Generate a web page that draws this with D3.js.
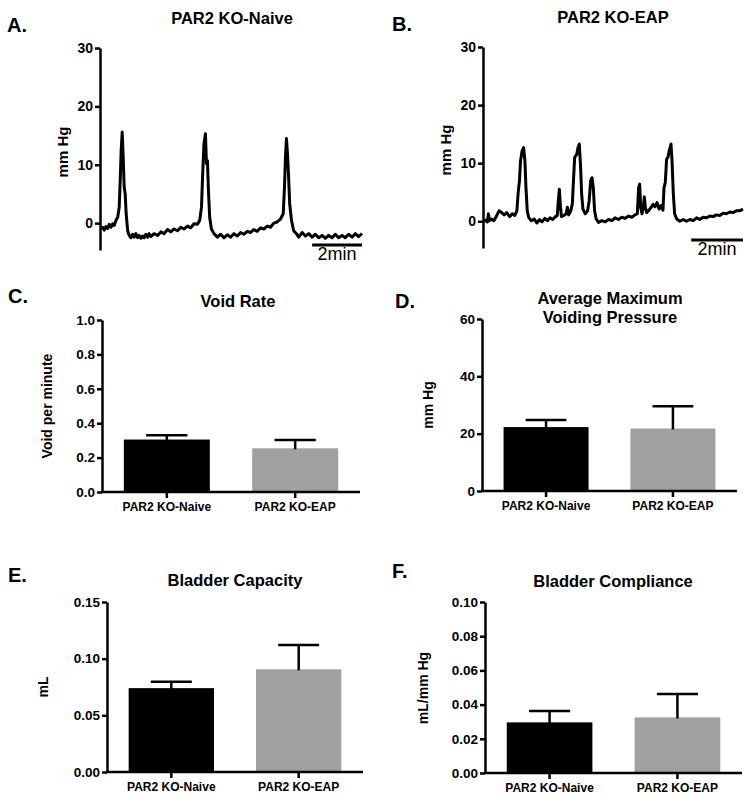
<!DOCTYPE html>
<html>
<head>
<meta charset="utf-8">
<script src="https://cdn.jsdelivr.net/npm/d3@7"></script>
<style>
html,body{margin:0;padding:0;background:#fff;}
svg{display:block;}
text{font-family:"Liberation Sans",Arial,Helvetica,sans-serif;}
</style>
</head>
<body>
<svg id="chart" width="751" height="800"></svg>
<script>
// ---------- DATA ----------
// Trace A: PAR2 KO-Naive (time in minutes, pressure in mm Hg)
const traceATime = [0,0.07,0.13,0.2,0.27,0.33,0.4,0.47,0.53,0.6,0.67,0.73,0.77,0.81,0.85,0.89,0.93,0.97,1.01,1.07,1.13,1.2,1.27,1.33,1.4,1.47,1.53,1.6,1.67,1.73,1.8,1.87,1.93,2.0,2.13,2.27,2.4,2.53,2.67,2.8,2.93,3.07,3.2,3.33,3.47,3.6,3.73,3.87,3.96,4.03,4.08,4.13,4.19,4.23,4.27,4.31,4.36,4.43,4.53,4.67,4.8,4.93,5.07,5.2,5.33,5.47,5.6,5.73,5.87,6.0,6.13,6.27,6.4,6.53,6.67,6.8,6.93,7.07,7.2,7.31,7.36,7.4,7.44,7.48,7.52,7.57,7.64,7.73,7.84,7.93,8.07,8.2,8.33,8.47,8.6,8.73,8.87,9.0,9.13,9.27,9.4,9.53,9.67,9.8,9.93,10.07,10.2,10.33,10.47];
const traceAValue = [-1.0,-0.7,-1.2,-0.6,-0.9,-0.2,-0.7,-0.1,-0.4,0.5,1.0,2.7,7.3,12.5,15.6,11.3,6.2,5.0,1.6,-1.3,-2.1,-2.5,-1.9,-2.4,-1.8,-2.5,-2.1,-2.6,-2.2,-2.5,-1.9,-2.4,-1.8,-2.3,-1.8,-2.1,-1.5,-1.8,-1.1,-1.5,-1.0,-1.3,-0.7,-1.0,-0.5,-0.8,-0.1,-0.2,0.5,2.7,8.5,13.6,15.3,10.2,10.7,5.6,1.0,-1.0,-1.8,-2.4,-1.9,-2.5,-2.0,-2.4,-1.8,-2.2,-1.6,-1.9,-1.4,-1.6,-1.1,-1.4,-0.8,-1.0,-0.5,-0.7,0.0,0.2,0.7,1.6,6.2,11.3,14.5,11.9,8.5,3.3,0.5,-1.3,-1.8,-2.4,-1.6,-2.2,-1.8,-2.4,-1.9,-2.5,-2.1,-2.6,-2.1,-2.5,-1.9,-2.5,-2.1,-2.5,-1.9,-2.4,-1.8,-2.3,-1.8];

// Trace B: PAR2 KO-EAP
const traceBTime = [0,0.06,0.13,0.17,0.21,0.29,0.38,0.47,0.58,0.68,0.78,0.88,0.99,1.09,1.19,1.27,1.32,1.37,1.41,1.47,1.53,1.58,1.62,1.67,1.73,1.83,1.94,2.04,2.14,2.24,2.35,2.45,2.55,2.65,2.76,2.83,2.87,2.91,2.95,2.99,3.08,3.17,3.22,3.27,3.35,3.41,3.46,3.5,3.58,3.63,3.68,3.73,3.77,3.82,3.91,4.0,4.06,4.12,4.17,4.22,4.27,4.33,4.42,4.55,4.68,4.81,4.94,5.06,5.19,5.32,5.45,5.58,5.71,5.83,5.92,5.97,6.01,6.05,6.1,6.15,6.19,6.23,6.28,6.37,6.45,6.53,6.6,6.68,6.76,6.83,6.91,6.95,7.0,7.05,7.1,7.15,7.22,7.26,7.31,7.36,7.44,7.56,7.69,7.82,7.95,8.08,8.21,8.33,8.46,8.59,8.72,8.85,8.97,9.1,9.23,9.36,9.49,9.62,9.74,9.87,10.0];
const traceBValue = [0,0.2,-0.1,1.3,0.1,0.4,0.1,0.8,1.8,1.5,1.1,1.5,0.8,1.3,1.0,1.8,5.0,7.0,10.4,12.1,12.7,10.4,5.8,1.8,0.6,0.1,0.4,-0.3,0.3,-0.1,0.5,0.1,0.6,0.3,0.8,1.0,3.5,5.5,2.7,0.8,1.0,1.3,2.4,1.1,1.8,3.0,7.5,11.0,11.5,12.7,13.3,9.3,4.7,2.1,1.3,1.8,3.5,7.0,7.5,5.8,1.8,0.4,-0.2,0.1,-0.1,0.3,0.1,0.6,0.3,0.7,0.5,0.9,0.7,1.1,1.3,5.8,6.4,2.4,1.3,2.4,4.2,2.4,1.5,1.9,2.4,2.9,2.5,3.2,2.1,2.7,1.9,5.8,6.7,10.7,11.0,12.1,13.3,10.4,4.7,1.3,0.4,0.0,0.3,0.0,0.3,0.1,0.6,0.3,0.7,0.6,0.9,0.8,1.1,1.0,1.4,1.3,1.6,1.5,1.8,1.8,2.1];

const traceTicks = [0, 10, 20, 30];

// Bar panels
const groups = ["PAR2 KO-Naive", "PAR2 KO-EAP"];
const voidRateMean = [0.305, 0.254];
const voidRateErr  = [0.025, 0.048];
const voidRateTicks = [0, 0.2, 0.4, 0.6, 0.8, 1.0];

const pressureMean = [22.3, 21.8];
const pressureErr  = [2.5, 7.8];
const pressureTicks = [0, 20, 40, 60];

const capacityMean = [0.074, 0.0906];
const capacityErr  = [0.0057, 0.0214];
const capacityTicks = [0, 0.05, 0.10, 0.15];

const complianceMean = [0.0296, 0.0325];
const complianceErr  = [0.0066, 0.0137];
const complianceTicks = [0, 0.02, 0.04, 0.06, 0.08, 0.10];

const barColors = ["#000000", "#a0a0a0"];

// ---------- DRAWING ----------
const svg = d3.select("#chart");
const FONT = '"Liberation Sans", Arial, Helvetica, sans-serif';

function styleAxis(g, fontSize) {
  g.selectAll("path.domain").attr("stroke", "#000").attr("stroke-width", 2.5);
  g.selectAll(".tick line").attr("stroke", "#000").attr("stroke-width", 2.5);
  g.selectAll(".tick text").attr("fill", "#000").attr("font-family", FONT)
    .attr("font-weight", "bold").attr("font-size", fontSize);
}

function panelLetter(txt, x, y) {
  svg.append("text").attr("x", x).attr("y", y).text(txt)
    .attr("font-size", 20).attr("font-weight", "bold").attr("fill", "#000");
}
function title(lines, cx, y0, lh) {
  lines.forEach((l, i) => {
    svg.append("text").attr("x", cx).attr("y", y0 + i * lh).text(l)
      .attr("text-anchor", "middle").attr("font-size", 16.5)
      .attr("font-weight", "bold").attr("fill", "#000");
  });
}
function yLabel(txt, x, y, fs) {
  svg.append("text").attr("transform", `translate(${x},${y}) rotate(-90)`)
    .attr("text-anchor", "middle").attr("dominant-baseline", "central")
    .attr("font-size", fs).attr("font-weight", "bold").attr("fill", "#000").text(txt);
}

function tracePanel(opt) {
  const x = d3.scaleLinear().domain(opt.xDomain).range([opt.axisX + 1, opt.xEnd]);
  const y = d3.scaleLinear().domain(opt.yDomain).range([opt.yBottom, opt.yTop]);
  const ax = svg.append("g").attr("transform", `translate(${opt.axisX},0)`)
    .call(d3.axisLeft(y).tickValues(traceTicks).tickSize(5).tickSizeOuter(0).tickPadding(2).tickFormat(d3.format("d")));
  styleAxis(ax, 14);
  const data = opt.time.map((t, i) => [t, opt.value[i]]);
  svg.append("path").datum(data)
    .attr("fill", "none").attr("stroke", "#000").attr("stroke-width", 3)
    .attr("stroke-linejoin", "round")
    .attr("d", d3.line().x(d => x(d[0])).y(d => y(d[1])));
  // 2-min scale bar
  const x1 = opt.xDomain[1], x0 = x1 - 2;
  svg.append("line").attr("x1", x(x0)).attr("x2", x(x1))
    .attr("y1", opt.barY).attr("y2", opt.barY)
    .attr("stroke", "#000").attr("stroke-width", 3);
  svg.append("text").attr("x", (x(x0) + x(x1)) / 2).attr("y", opt.barY + 15)
    .attr("text-anchor", "middle").attr("font-size", 18).attr("fill", "#000").text("2min");
}

function barPanel(opt) {
  const x = d3.scaleBand().domain(groups).range([opt.axisX, opt.xEnd])
    .paddingInner(0.33).paddingOuter(0.17);
  const y = d3.scaleLinear().domain(opt.yDomain).range([opt.yBottom, opt.yTop]);
  const g = svg.append("g");
  g.selectAll("rect").data(groups).join("rect")
    .attr("x", d => x(d)).attr("width", x.bandwidth())
    .attr("y", (d, i) => y(opt.mean[i]))
    .attr("height", (d, i) => y(0) - y(opt.mean[i]))
    .attr("fill", (d, i) => barColors[i]);
  groups.forEach((d, i) => {
    const cx = x(d) + x.bandwidth() / 2;
    const top = y(opt.mean[i] + opt.err[i]);
    const capW = x.bandwidth() * 0.48;
    g.append("line").attr("x1", cx).attr("x2", cx)
      .attr("y1", y(opt.mean[i]) + 1).attr("y2", top)
      .attr("stroke", "#000").attr("stroke-width", 2.5);
    g.append("line").attr("x1", cx - capW / 2).attr("x2", cx + capW / 2)
      .attr("y1", top).attr("y2", top)
      .attr("stroke", "#000").attr("stroke-width", 2.5);
  });
  const ay = svg.append("g").attr("transform", `translate(${opt.axisX},0)`)
    .call(d3.axisLeft(y).tickValues(opt.ticks).tickSize(5).tickSizeOuter(0).tickPadding(2).tickFormat(d3.format(opt.fmt)));
  styleAxis(ay, 13.5);
  const axb = svg.append("g").attr("transform", `translate(0,${opt.yBottom})`)
    .call(d3.axisBottom(x).tickSize(6).tickSizeOuter(0).tickPadding(4));
  styleAxis(axb, 12);
  axb.select("path.domain").attr("d", `M${opt.axisX - 1},0H${opt.xEnd}`);
}

// Panel A
panelLetter("A.", 7, 32);
title(["PAR2 KO-Naive"], 232, 24, 19);
yLabel("mm Hg", 62, 152, 15);
tracePanel({ axisX: 100, xEnd: 362, xDomain: [0, 10.47], yDomain: [-4.6, 30], yBottom: 250, yTop: 48,
  time: traceATime, value: traceAValue, barY: 245 });

// Panel B
panelLetter("B.", 392, 31);
title(["PAR2 KO-EAP"], 613, 23, 19);
yLabel("mm Hg", 445, 150, 15);
tracePanel({ axisX: 483, xEnd: 743, xDomain: [0, 10.0], yDomain: [-4.6, 30], yBottom: 248, yTop: 47,
  time: traceBTime, value: traceBValue, barY: 240 });

// Panel C
panelLetter("C.", 8, 303);
title(["Void Rate"], 238, 307, 19);
yLabel("Void per minute", 47, 406, 14);
barPanel({ axisX: 102, xEnd: 360, yBottom: 492, yTop: 320, yDomain: [0, 1.0],
  mean: voidRateMean, err: voidRateErr, ticks: voidRateTicks, fmt: ".1f" });

// Panel D
panelLetter("D.", 395, 308);
title(["Average Maximum", "Voiding Pressure"], 610, 304, 19);
yLabel("mm Hg", 428, 405, 14);
barPanel({ axisX: 482, xEnd: 737, yBottom: 491, yTop: 319, yDomain: [0, 60],
  mean: pressureMean, err: pressureErr, ticks: pressureTicks, fmt: "d" });

// Panel E
panelLetter("E.", 8, 582);
title(["Bladder Capacity"], 235, 586, 19);
yLabel("mL", 43, 687, 14);
barPanel({ axisX: 107, xEnd: 363, yBottom: 772, yTop: 602, yDomain: [0, 0.15],
  mean: capacityMean, err: capacityErr, ticks: capacityTicks, fmt: ".2f" });

// Panel F
panelLetter("F.", 392, 578);
title(["Bladder Compliance"], 613, 587, 19);
yLabel("mL/mm Hg", 423, 688, 14);
barPanel({ axisX: 485, xEnd: 742, yBottom: 773, yTop: 602, yDomain: [0, 0.10],
  mean: complianceMean, err: complianceErr, ticks: complianceTicks, fmt: ".2f" });
</script>
</body>
</html>
